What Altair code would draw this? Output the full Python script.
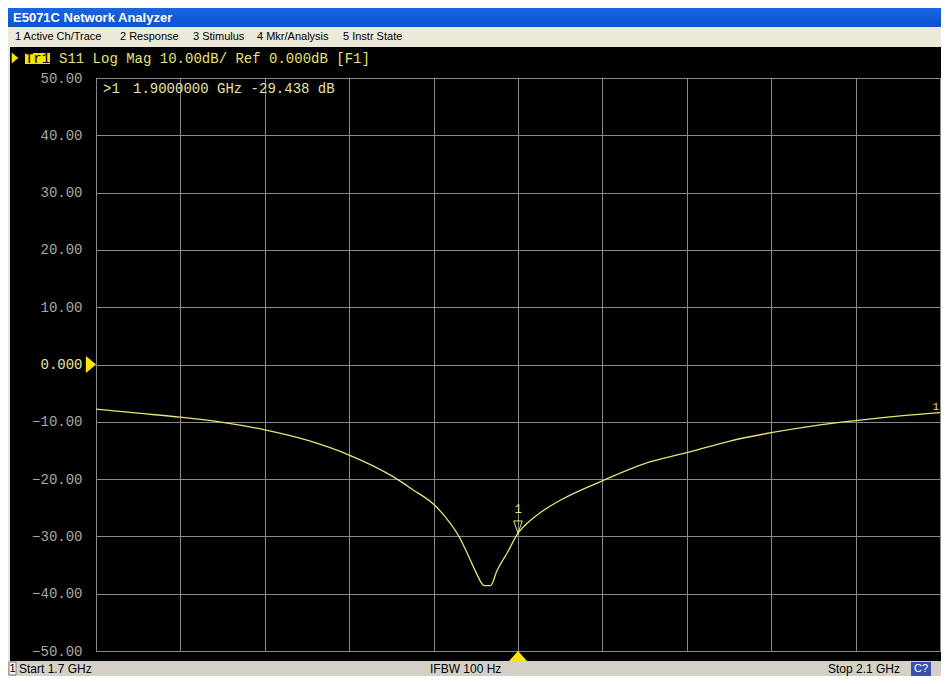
import altair as alt
import pandas as pd

# ---- trace data ----
freq_ghz = [1.700, 1.720, 1.740, 1.760, 1.780, 1.800, 1.820, 1.840, 1.850, 1.860,
            1.866, 1.872, 1.876, 1.880, 1.884, 1.887, 1.890, 1.895, 1.900, 1.905,
            1.910, 1.920, 1.940, 1.960, 1.980, 2.000, 2.020, 2.040, 2.060, 2.080, 2.100]
s11_db = [-7.8, -8.5, -9.2, -10.1, -11.4, -13.2, -15.8, -19.4, -21.8, -24.4,
          -26.8, -30.0, -33.0, -36.2, -38.6, -38.6, -36.0, -32.8, -29.44, -27.5,
          -26.0, -23.7, -20.3, -17.3, -15.4, -13.4, -11.9, -10.7, -9.8, -9.0, -8.4]

x_grid = [1.70, 1.74, 1.78, 1.82, 1.86, 1.90, 1.94, 1.98, 2.02, 2.06, 2.10]
y_ticks = [50, 40, 30, 20, 10, 0, -10, -20, -30, -40, -50]

marker_freq = 1.9
marker_db = -29.438
ref_level = 0.0

menu_items = ["1 Active Ch/Trace", "2 Response", "3 Stimulus", "4 Mkr/Analysis", "5 Instr State"]

MONO = "Liberation Mono"
SANS = "Liberation Sans"
W, H = 844, 573

df = pd.DataFrame({"freq": freq_ghz, "s11": s11_db})
mk = pd.DataFrame({"freq": [marker_freq], "s11": [marker_db]})
one = alt.Data(values=[{}])

xs = alt.Scale(domain=[1.7, 2.1], nice=False, zero=False)
ys = alt.Scale(domain=[-50, 50], nice=False, zero=False)


def rect(x1, x2, y1, y2, color, stroke=None):
    kw = dict(color=color)
    if stroke:
        kw.update(stroke=stroke, strokeWidth=1)
    return alt.Chart(one).mark_rect(**kw).encode(
        x=alt.value(x1), x2=alt.value(x2), y=alt.value(y1), y2=alt.value(y2))


def label(txt, x, y, color, size, font=SANS, weight="normal", align="left"):
    return alt.Chart(one).mark_text(
        text=txt, align=align, baseline="middle", font=font, fontSize=size,
        fontWeight=weight, color=color).encode(x=alt.value(x), y=alt.value(y))


title_grad = alt.LinearGradient(
    gradient="linear", x1=0, x2=0, y1=0, y2=1,
    stops=[alt.GradientStop(color="#2a72ea", offset=0),
           alt.GradientStop(color="#1560dc", offset=0.5),
           alt.GradientStop(color="#0c54cf", offset=1)])

layers = []
# window chrome
layers.append(alt.Chart(one).mark_rect(color=title_grad).encode(
    x=alt.value(-96), x2=alt.value(860), y=alt.value(-80), y2=alt.value(-51)))
layers.append(label("E5071C Network Analyzer", -83, -60, "#ffffff", 13, weight="bold"))
layers.append(rect(-96, 860, -51, -31, "#ece9d8"))
menu_x = [-81, 24, 97, 161, 247]
for t, mx in zip(menu_items, menu_x):
    layers.append(label(t, mx, -41, "#000000", 11))
layers.append(rect(-96, -86, -31, 583, "#e6e6e6"))
layers.append(rect(-96, 860, 583, 610, "#d4d0c8"))
layers.append(rect(-87, -80, 584, 597, "#f4f4f4", stroke="#808080"))
layers.append(label("1", -83.5, 591, "#000000", 11, align="center"))
layers.append(label(f"Start {freq_ghz[0]:.1f} GHz", -77, 591, "#000000", 12))
layers.append(label("IFBW 100 Hz", 334, 591, "#000000", 12))
layers.append(label(f"Stop {freq_ghz[-1]:.1f} GHz", 732, 591, "#000000", 12))
layers.append(rect(815, 835, 584, 598, "#3a4fa8"))
layers.append(label("C?", 825, 591, "#ffffff", 11, align="center"))

# channel header
layers.append(alt.Chart(one).mark_point(
    shape="M-0.6,-1L0.6,0L-0.6,1Z", size=121, filled=True, color="#ffe600", opacity=1
).encode(x=alt.value(-81), y=alt.value(-20)))
layers.append(rect(-71, -46, -25, -14, "#f2e600"))
layers.append(label("Tr1", -58.5, -19.5, "#000000", 14, font=MONO, align="center"))
layers.append(label("S11 Log Mag 10.00dB/ Ref 0.000dB [F1]", -37, -19, "#e6e07a", 14, font=MONO))

# marker readout
layers.append(label(">1", 7, 11, "#e6e2a8", 14, font=MONO))
layers.append(label(f"{marker_freq:.7f} GHz {marker_db:.3f} dB", 37, 11, "#e6e2a8", 14, font=MONO))

# trace
trace = alt.Chart(df).mark_line(color="#e8e27a", strokeWidth=1.3, interpolate="monotone").encode(
    x=alt.X("freq:Q", scale=xs,
            axis=alt.Axis(values=x_grid, labels=False, ticks=False, title=None,
                          grid=True, domain=False)),
    y=alt.Y("s11:Q", scale=ys,
            axis=alt.Axis(values=y_ticks, title=None, ticks=False, domain=False, grid=True,
                          labelExpr="datum.value == 0 ? '0.000' : format(datum.value, '.2f')",
                          labelFont=MONO, labelFontSize=14, labelPadding=14,
                          labelColor={"condition": {"test": "datum.value == 0", "value": "#e8e6a0"},
                                      "value": "#a8a8a8"})),
)
layers.append(trace)

# reference level arrows
ref_df = pd.DataFrame({"s11": [ref_level]})
layers.append(alt.Chart(ref_df).mark_point(
    shape="M-0.6,-1L0.6,0L-0.6,1Z", size=289, filled=True, color="#ffe600", opacity=1
).encode(x=alt.value(-5), y=alt.Y("s11:Q", scale=ys)))
layers.append(alt.Chart(ref_df).mark_point(
    shape="M0.6,-1L-0.6,0L0.6,1Z", size=289, filled=True, color="#ffe600", opacity=1
).encode(x=alt.value(W + 5), y=alt.Y("s11:Q", scale=ys)))

# marker glyphs
layers.append(alt.Chart(mk).mark_point(
    shape="M-1,0.55L0,-0.55L1,0.55Z", size=324, filled=True, color="#ffe600", opacity=1
).encode(x=alt.X("freq:Q", scale=xs), y=alt.value(H + 5)))
layers.append(alt.Chart(mk).mark_point(
    shape="M-0.7,-2L0.7,-2L0,0Z", size=150, filled=False, color="#e8e27a", opacity=1, strokeWidth=1
).encode(x=alt.X("freq:Q", scale=xs), y=alt.Y("s11:Q", scale=ys)))
layers.append(alt.Chart(mk).mark_text(
    text="1", dy=-24, font=MONO, fontSize=12, color="#e8e27a"
).encode(x=alt.X("freq:Q", scale=xs), y=alt.Y("s11:Q", scale=ys)))

end_df = pd.DataFrame({"s11": [s11_db[-1]]})
layers.append(alt.Chart(end_df).mark_text(
    text="1", align="right", baseline="bottom", dy=-1, font=MONO, fontSize=11, color="#e8e27a"
).encode(x=alt.value(W - 1), y=alt.Y("s11:Q", scale=ys)))

chart = alt.layer(*layers).properties(
    width=W, height=H,
    autosize=alt.AutoSizeParams(type="none"),
    padding={"left": 88, "top": 70, "right": 1, "bottom": 25},
    background="#000000",
).configure_view(stroke="#b4b4b4", strokeWidth=1).configure_axis(
    gridColor="#8a8a8a", gridWidth=1, gridOpacity=1
)

chart.save("out.html", embed_options={"renderer": "svg", "actions": False})
